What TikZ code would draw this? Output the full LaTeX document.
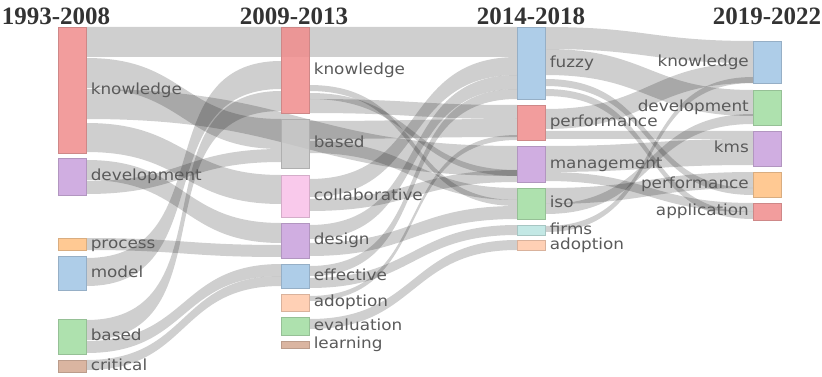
\documentclass[tikz,border=0pt]{standalone}
\usepackage{fontspec}
\newfontfamily\lblfont[FakeStretch=1.1]{DejaVu Sans}
\newfontfamily\hdrfont{Liberation Serif}
\usetikzlibrary{positioning,backgrounds}

\definecolor{kred}{HTML}{F08C8C}
\definecolor{kpurple}{HTML}{C8A0DC}
\definecolor{korange}{HTML}{FFC080}
\definecolor{kblue}{HTML}{A0C4E4}
\definecolor{kgreen}{HTML}{A0DCA0}
\definecolor{kbrown}{HTML}{D4A890}
\definecolor{kgray}{HTML}{C4C4C4}
\definecolor{kpink}{HTML}{F8C0E8}
\definecolor{kpeach}{HTML}{FFC8A8}
\definecolor{kteal}{HTML}{B8E4E0}
\definecolor{lblgray}{HTML}{5A5A5A}
\definecolor{hdrgray}{HTML}{333333}

\tikzset{
  bar/.style={draw=#1!70!gray, fill=#1, fill opacity=0.85, minimum width=28pt,
    inner sep=0pt, anchor=north west, line width=0.6pt},
  lbl/.style={font=\lblfont\fontsize{15.3}{16}\selectfont, text=lblgray, inner sep=0pt,
    text height=11pt, text depth=3.5pt},
  hdr/.style={font=\hdrfont\bfseries\fontsize{25}{27}\selectfont, text=hdrgray, inner sep=0pt},
  flow/.style={fill=black, fill opacity=0.19}
}

% band: source, offset, target, offset, width
\newcommand\band[5]{%
  \fill[flow] ([yshift=-#2pt]#1.north east) to[out=0,in=180,looseness=1.25] ([yshift=-#4pt]#3.north west)
    -- ([yshift=-#4pt-#5pt]#3.north west) to[out=180,in=0,looseness=1.25] ([yshift=-#2pt-#5pt]#1.north east) -- cycle;}

\begin{document}
\begin{tikzpicture}[x=1pt,y=-1pt]
\useasboundingbox (0,0) rectangle (822,377);

% headers
\node[hdr] (h1) at (56,16) {1993-2008};
\node[hdr] (h2) at (294,16) {2009-2013};
\node[hdr] (h3) at (531,16) {2014-2018};
\node[hdr] (h4) at (767,16) {2019-2022};

% 1993-2008
\node[bar=kred, minimum height=126pt] (k1) at (58,27) {};
\node[bar=kpurple, minimum height=37pt] (d1) at (58,158) {};
\node[bar=korange, minimum height=12pt] (p1) at (58,238) {};
\node[bar=kblue, minimum height=34pt] (m1) at (58,256) {};
\node[bar=kgreen, minimum height=35pt] (b1) at (58,319) {};
\node[bar=kbrown, minimum height=12pt] (c1) at (58,360) {};

% 2009-2013
\node[bar=kred, minimum height=86pt] (k2) at (281,27) {};
\node[bar=kgray, minimum height=49pt] (b2) at (281,119) {};
\node[bar=kpink, minimum height=42pt] (co2) at (281,175) {};
\node[bar=kpurple, minimum height=35pt] (de2) at (281,223) {};
\node[bar=kblue, minimum height=24pt] (ef2) at (281,264) {};
\node[bar=kpeach, minimum height=17pt] (ad2) at (281,294) {};
\node[bar=kgreen, minimum height=18pt] (ev2) at (281,317) {};
\node[bar=kbrown, minimum height=7pt] (le2) at (281,341) {};

% 2014-2018
\node[bar=kblue, minimum height=72pt] (f3) at (517,27) {};
\node[bar=kred, minimum height=35pt] (pe3) at (517,105) {};
\node[bar=kpurple, minimum height=36pt] (ma3) at (517,146) {};
\node[bar=kgreen, minimum height=31pt] (is3) at (517,188) {};
\node[bar=kteal, minimum height=10pt] (fi3) at (517,225) {};
\node[bar=kpeach, minimum height=10pt] (ad3) at (517,240) {};

% 2019-2022
\node[bar=kblue, minimum height=42pt] (k4) at (753,41) {};
\node[bar=kgreen, minimum height=35pt] (d4) at (753,90) {};
\node[bar=kpurple, minimum height=35pt] (km4) at (753,131) {};
\node[bar=korange, minimum height=25pt] (pe4) at (753,172) {};
\node[bar=kred, minimum height=17pt] (ap4) at (753,203) {};

\begin{scope}[on background layer]
% 1993-2008 out
\band{k1}{0}{f3}{0}{30}
\band{k1}{31}{b2}{0}{30}
\band{k1}{62}{ma3}{0}{30}
\band{k1}{96}{co2}{0}{29}
\band{d1}{2}{de2}{0}{20}
\band{d1}{23}{b2}{30}{13}
\band{p1}{0}{de2}{22}{12}
\band{m1}{2}{k2}{34}{28}
\band{b1}{1}{k2}{64}{20}
\band{b1}{22}{ef2}{0}{12}
\band{c1}{0}{ef2}{12}{10}
% 2009-2013 out
\band{k2}{58}{is3}{12}{6}
\band{k2}{66}{ma3}{24}{6}
\band{k2}{72}{pe3}{0}{14}
\band{b2}{2}{pe3}{14}{18}
\band{b2}{22}{is3}{0}{12}
\band{co2}{4}{f3}{30}{18}
\band{co2}{24}{ma3}{24}{12}
\band{de2}{2}{f3}{48}{14}
\band{de2}{20}{is3}{18}{13}
\band{ef2}{2}{f3}{62}{10}
\band{ef2}{14}{fi3}{0}{10}
\band{ad2}{2}{pe3}{30}{5}
\band{ev2}{2}{ad3}{0}{10}
% 2014-2018 out
\band{f3}{0}{k4}{0}{22}
\band{f3}{22}{d4}{0}{26}
\band{f3}{52}{pe4}{16}{7}
\band{f3}{62}{ap4}{9}{7}
\band{pe3}{4}{k4}{22}{20}
\band{pe3}{26}{km4}{0}{8}
\band{ma3}{0}{km4}{8}{26}
\band{ma3}{26}{ap4}{0}{9}
\band{is3}{0}{pe4}{0}{16}
\band{is3}{16}{d4}{24}{10}
\band{fi3}{1}{k4}{36}{6}
\end{scope}

% labels
\node[lbl, right=4pt of k1] (lk1) {knowledge};
\node[lbl, right=4pt of d1] (ld1) {development};
\node[lbl, right=4pt of p1] (lp1) {process};
\node[lbl, right=4pt of m1] (lm1) {model};
\node[lbl, right=4pt of b1] (lb1) {based};
\node[lbl, right=4pt of c1] (lc1) {critical};

\node[lbl, right=4pt of k2] (lk2) {knowledge};
\node[lbl, right=4pt of b2] (lb2) {based};
\node[lbl, right=4pt of co2] (lco2) {collaborative};
\node[lbl, right=4pt of de2] (lde2) {design};
\node[lbl, right=4pt of ef2] (lef2) {effective};
\node[lbl, right=4pt of ad2] (lad2) {adoption};
\node[lbl, right=4pt of ev2] (lev2) {evaluation};
\node[lbl, right=4pt of le2] (lle2) {learning};

\node[lbl, right=4pt of f3] (lf3) {fuzzy};
\node[lbl, right=4pt of pe3] (lpe3) {performance};
\node[lbl, right=4pt of ma3] (lma3) {management};
\node[lbl, right=4pt of is3] (lis3) {iso};
\node[lbl, right=4pt of fi3] (lfi3) {firms};
\node[lbl, right=4pt of ad3] (lad3) {adoption};

\node[lbl, left=4pt of k4] (lk4) {knowledge};
\node[lbl, left=4pt of d4] (ld4) {development};
\node[lbl, left=4pt of km4] (lkm4) {kms};
\node[lbl, left=4pt of pe4] (lpe4) {performance};
\node[lbl, left=4pt of ap4] (lap4) {application};
\end{tikzpicture}
\end{document}
